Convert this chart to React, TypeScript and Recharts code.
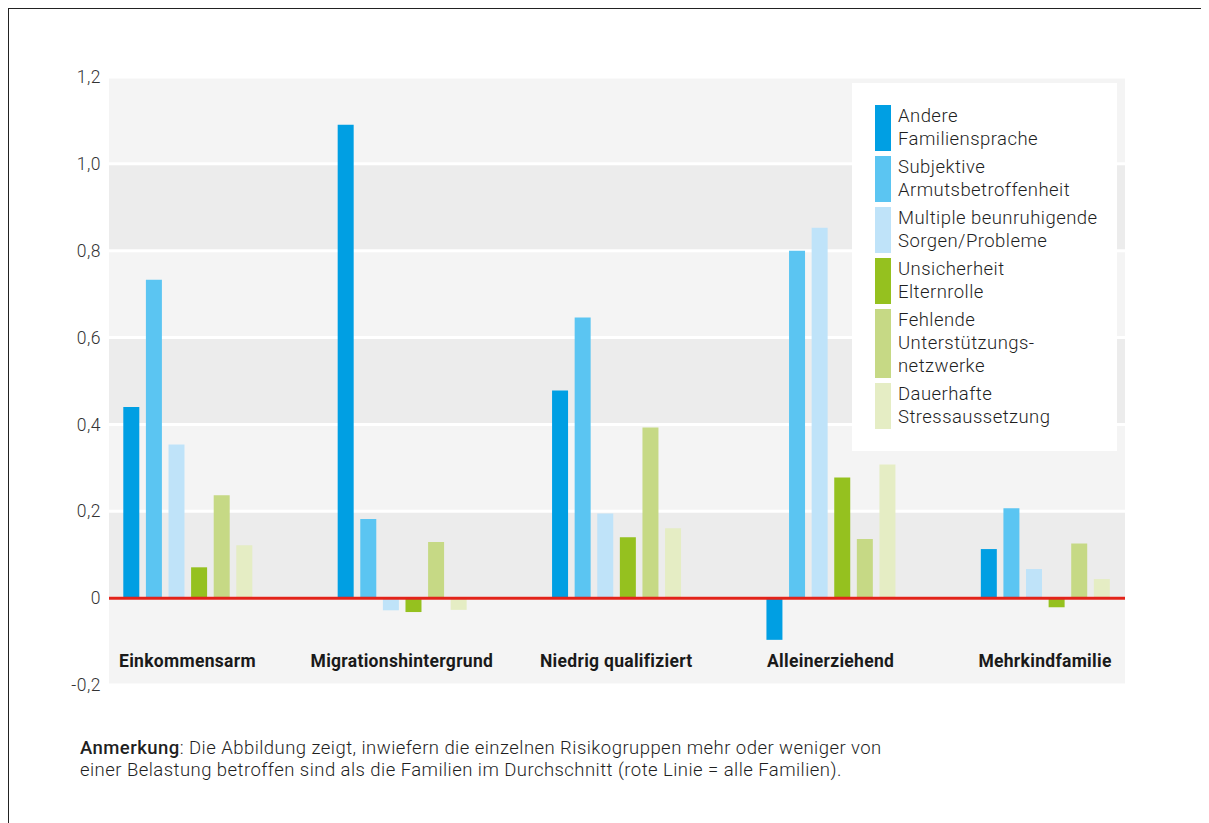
import { Bar, BarChart, CartesianGrid, Legend, ReferenceLine, XAxis, YAxis } from "recharts"

const groups = ["Einkommensarm", "Migrationshintergrund", "Niedrig qualifiziert", "Alleinerziehend", "Mehrkindfamilie"]

const andereSprache = [0.44, 1.09, 0.478, -0.096, 0.113]
const armut = [0.733, 0.182, 0.646, 0.8, 0.207]
const sorgen = [0.354, -0.028, 0.195, 0.853, 0.067]
const elternrolle = [0.071, -0.032, 0.14, 0.278, -0.021]
const netzwerke = [0.237, 0.129, 0.393, 0.136, 0.126]
const stress = [0.122, -0.027, 0.161, 0.308, 0.044]

const yTicks = [-0.2, 0, 0.2, 0.4, 0.6, 0.8, 1.0, 1.2]

const series = [
  { key: "andere", name: "Andere\nFamiliensprache", color: "#009fe3", values: andereSprache },
  { key: "armut", name: "Subjektive\nArmutsbetroffenheit", color: "#5bc5f2", values: armut },
  { key: "sorgen", name: "Multiple beunruhigende\nSorgen/Probleme", color: "#bfe3f9", values: sorgen },
  { key: "eltern", name: "Unsicherheit\nElternrolle", color: "#95c11f", values: elternrolle },
  { key: "netz", name: "Fehlende\nUnterstützungs-\nnetzwerke", color: "#c6d985", values: netzwerke },
  { key: "stress", name: "Dauerhafte\nStressaussetzung", color: "#e5edc4", values: stress },
]

const chartData = groups.map((g, i) => {
  const row: Record<string, string | number> = { group: g }
  series.forEach((s) => {
    row[s.key] = s.values[i]
  })
  return row
})

const FONT = "Roboto, 'Noto Sans', sans-serif"

function formatTick(v: number) {
  if (v === 0) return "0"
  return v.toFixed(1).replace(".", ",")
}

function GroupTick(props: any) {
  const { x, y, payload } = props
  return (
    <text
      x={x}
      y={y - 18}
      textAnchor="middle"
      fontFamily={FONT}
      fontSize={17.5}
      fontWeight={700}
      letterSpacing={0.3}
      fill="#1a1a1a"
    >
      {payload.value}
    </text>
  )
}

// keep the legend in series order (recharts sorts by name otherwise)
function LegendBox() {
  return (
    <div
      style={{
        background: "#fff",
        width: 265,
        height: 368,
        boxSizing: "border-box",
        padding: "22px 6px 0 23px",
        fontFamily: FONT,
        fontSize: 18.5,
        letterSpacing: 0.45,
        color: "#1f1f1f",
        fontWeight: 300,
      }}
    >
      {series.map((s) => (
        <div key={s.key} style={{ display: "flex", marginBottom: 5 }}>
          <div style={{ width: 16, background: s.color, flexShrink: 0 }} />
          <div style={{ marginLeft: 7, whiteSpace: "pre-line", lineHeight: "23px", textAlign: "left" }}>
            {s.name}
          </div>
        </div>
      ))}
    </div>
  )
}

export default function App() {
  return (
    <div
      style={{
        position: "relative",
        width: 1201,
        height: 815,
        borderTop: "1.5px solid #222",
        borderLeft: "1.5px solid #222",
        boxSizing: "border-box",
        background: "#fff",
      }}
    >
      <style>{"body{overflow:hidden}"}</style>
      <BarChart
        width={1126}
        height={686}
        data={chartData}
        margin={{ top: 68, right: 10, bottom: 0, left: 0 }}
        barSize={16}
        barGap={6.6}
      >
        <CartesianGrid
          vertical={false}
          stroke="#ffffff"
          strokeWidth={3}
          horizontalFill={["#f4f4f4", "#ececec"]}
          fillOpacity={1}
        />
        <XAxis
          dataKey="group"
          axisLine={false}
          tickLine={false}
          tickSize={0}
          tickMargin={0}
          height={10}
          padding={{ left: -28.7, right: -27.2 }}
          tick={<GroupTick />}
          interval={0}
        />
        <YAxis
          domain={[-0.2, 1.2]}
          ticks={yTicks}
          width={100}
          axisLine={false}
          tickLine={false}
          tickSize={0}
          tickMargin={8}
          tickFormatter={formatTick}
          tick={{ fill: "#333", fontSize: 17.5, fontFamily: FONT, fontWeight: 300, letterSpacing: 0.5 }}
          interval={0}
        />
        <Legend
          layout="vertical"
          align="center"
          verticalAlign="middle"
          content={<LegendBox />}
          wrapperStyle={{ top: 74, left: 843, width: 265, height: 368 }}
        />
        {series.map((s) => (
          <Bar key={s.key} dataKey={s.key} name={s.name} fill={s.color} isAnimationActive={false} />
        ))}
        <ReferenceLine y={0} stroke="#e2231a" strokeWidth={3} />
      </BarChart>
      <div
        style={{
          position: "absolute",
          left: 71,
          top: 728,
          fontFamily: FONT,
          fontSize: 18.5,
          letterSpacing: 0.45,
          lineHeight: "22px",
          color: "#1f1f1f",
          fontWeight: 300,
        }}
      >
        <span style={{ fontWeight: 500 }}>Anmerkung</span>: Die Abbildung zeigt, inwiefern die einzelnen Risikogruppen mehr oder weniger von
        <br />
        einer Belastung betroffen sind als die Familien im Durchschnitt (rote Linie = alle Familien).
      </div>
    </div>
  )
}
